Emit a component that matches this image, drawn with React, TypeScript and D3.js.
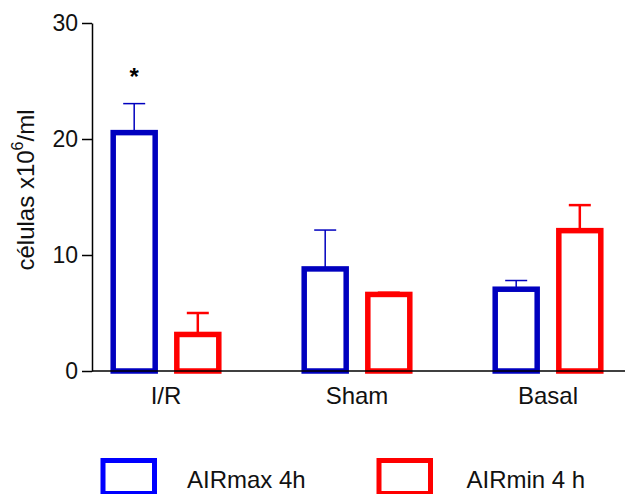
import React, { useEffect, useRef } from "react";
import { select, scaleBand, scaleLinear, axisLeft } from "d3";

// data
const categories = ["I/R", "Sham", "Basal"];
const seriesNames = ["AIRmax 4h", "AIRmin 4 h"];
const airMax = [20.55, 8.8, 7.05];
const airMaxErr = [2.5, 3.35, 0.75];
const airMin = [3.15, 6.6, 12.1];
const airMinErr = [1.85, 0.15, 2.2];
const yTicks = [0, 10, 20, 30];

const width = 625;
const height = 494;
const axisX = 92;
const font = "'Liberation Sans', Arial, sans-serif";

const barColors = ["#0000bf", "#ff0000"];
const legendColors = ["#0000ff", "#ff0000"];

const y = scaleLinear().domain([0, 30]).range([371, 23]);
const x0 = scaleBand().domain(categories).range([70.5, 643.5]).padding(0);
const x1 = scaleBand()
  .domain(seriesNames)
  .range([95.5 - 52.8, 95.5 + 52.8])
  .paddingInner(0.34)
  .paddingOuter(0);

const rows = categories.map((c, i) => ({
  cat: c,
  values: [
    { key: seriesNames[0], mean: airMax[i], err: airMaxErr[i], color: barColors[0], errW: 1.5 },
    { key: seriesNames[1], mean: airMin[i], err: airMinErr[i], color: barColors[1], errW: 2.5 },
  ],
}));

export default function App() {
  const yAxisRef = useRef<SVGGElement>(null);

  useEffect(() => {
    const g = select(yAxisRef.current);
    g.call(
      axisLeft(y)
        .tickValues(yTicks)
        .tickSize(10)
        .tickSizeOuter(0)
        .tickPadding(4)
    );
    g.select(".domain").attr("stroke", "#000").attr("stroke-width", 1.5);
    g.selectAll(".tick line").attr("stroke", "#000").attr("stroke-width", 1.5);
    g.selectAll(".tick text")
      .attr("font-size", 23)
      .attr("font-family", font)
      .attr("fill", "#111");
  }, []);

  const bw = x1.bandwidth();

  return (
    <svg
      width={width}
      height={height}
      style={{ position: "absolute", left: 0, top: 0, background: "#fff" }}
    >
      {/* bars + error bars */}
      {rows.map((row) => (
        <g key={row.cat} transform={`translate(${x0(row.cat)},0)`}>
          {row.values.map((v) => {
            const cx = (x1(v.key) as number) + bw / 2;
            return (
              <g key={v.key}>
                <line
                  x1={cx}
                  x2={cx}
                  y1={y(v.mean)}
                  y2={y(v.mean + v.err)}
                  stroke={v.color}
                  strokeWidth={v.errW}
                />
                <line
                  x1={cx - 11}
                  x2={cx + 11}
                  y1={y(v.mean + v.err)}
                  y2={y(v.mean + v.err)}
                  stroke={v.color}
                  strokeWidth={v.errW}
                />
                <rect
                  x={x1(v.key)}
                  y={y(v.mean)}
                  width={bw}
                  height={y(0) - y(v.mean)}
                  fill="#fff"
                  stroke={v.color}
                  strokeWidth={5.5}
                />
              </g>
            );
          })}
        </g>
      ))}

      {/* significance mark */}
      <text
        x={(x0("I/R") as number) + (x1(seriesNames[0]) as number) + bw / 2}
        y={y(airMax[0] + airMaxErr[0]) - 19}
        textAnchor="middle"
        fontSize={24}
        fontWeight="bold"
        fontFamily={font}
      >
        *
      </text>

      {/* x axis */}
      <line x1={axisX} x2={width} y1={y(0)} y2={y(0)} stroke="#000" strokeWidth={1.5} />
      {categories.map((c) => (
        <text
          key={c}
          x={(x0(c) as number) + x0.bandwidth() / 2}
          y={404}
          textAnchor="middle"
          fontSize={24}
          fontFamily={font}
          fill="#111"
        >
          {c}
        </text>
      ))}

      {/* y axis */}
      <g ref={yAxisRef} transform={`translate(${axisX},0)`} />
      <text
        transform={`translate(34,${(y(0) + y(30)) / 2 - 7}) rotate(-90)`}
        textAnchor="middle"
        fontSize={24}
        fontFamily={font}
        fill="#111"
      >
        células x10
        <tspan fontSize={16} dy={-11}>6</tspan>
        <tspan dy={11}>/ml</tspan>
      </text>

      {/* legend */}
      {seriesNames.map((s, i) => (
        <g key={s} transform={`translate(${i === 0 ? 100.5 : 376.5},458)`}>
          <rect
            x={2.5}
            y={2.5}
            width={51.5}
            height={33}
            fill="#fff"
            stroke={legendColors[i]}
            strokeWidth={5}
          />
          <text x={i === 0 ? 86.5 : 90} y={30} fontSize={24} fontFamily={font} fill="#111">
            {s}
          </text>
        </g>
      ))}
    </svg>
  );
}
